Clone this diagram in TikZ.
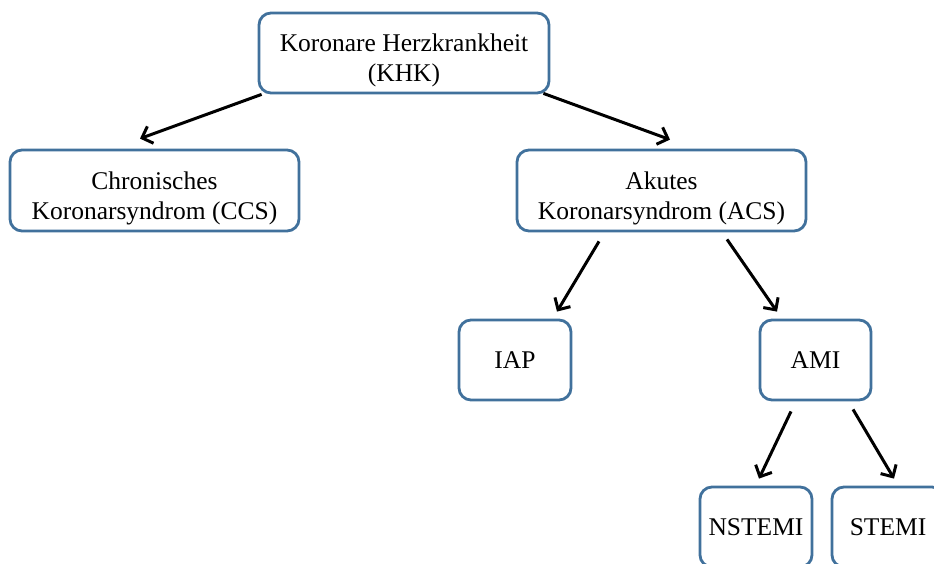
\documentclass[tikz,border=0pt]{standalone}
\usepackage{fontspec}
\setmainfont{Liberation Serif}
\usetikzlibrary{arrows.meta,calc}
\definecolor{boxblue}{RGB}{65,113,156}
\newcommand\lowtext[1]{\raisebox{-8pt}[\height][\depth]{\begin{tabular}{@{}c@{}}#1\end{tabular}}}
\begin{document}
\begin{tikzpicture}[x=1pt,y=1pt,
  box/.style={draw=boxblue, line width=2.8pt, rounded corners=12pt, fill=white,
    inner sep=0pt, align=center, font=\fontsize{25.5}{30}\selectfont},
  arr/.style={line width=3pt, draw=black, -{Straight Barb[length=9pt,width=18pt,line width=3pt]}}
]
\useasboundingbox (0,0) rectangle (934,563);
\clip (0,0) rectangle (934,563);
\node[box, minimum width=290pt, minimum height=80pt] (khk) at (404,510) {\lowtext{Koronare Herzkrankheit\\(KHK)}};
\node[box, minimum width=289pt, minimum height=81pt] (ccs) at (154.5,372.5) {\lowtext{Chronisches\\Koronarsyndrom (CCS)}};
\node[box, minimum width=289pt, minimum height=81pt] (acs) at (661.5,372.5) {\lowtext{Akutes\\Koronarsyndrom (ACS)}};
\node[box, minimum width=112pt, minimum height=80pt] (iap) at (515,203) {IAP};
\node[box, minimum width=111pt, minimum height=80pt] (ami) at (815.5,203) {AMI};
\node[box, minimum width=112pt, minimum height=80pt] (nstemi) at (756,36) {NSTEMI};
\node[box, minimum width=112pt, minimum height=80pt] (stemi) at (888,36) {STEMI};
\draw[arr] ($(khk.south west)+(4,0)$) -- ($(ccs.north)+(-14.5,10)$);
\draw[arr] ($(khk.south east)+(-7,1)$) -- ($(acs.north)+(8.5,9)$);
\draw[arr] ($(acs.south)+(-62.5,-9)$) -- ($(iap.north)+(42,7)$);
\draw[arr] ($(acs.south)+(65.5,-7)$) -- ($(ami.north)+(-38.5,7)$);
\draw[arr] ($(ami.south)+(-24.5,-10)$) -- ($(nstemi.north)+(3,7)$);
\draw[arr] ($(ami.south)+(37.5,-8)$) -- ($(stemi.north)+(6,7)$);
\end{tikzpicture}
\end{document}
